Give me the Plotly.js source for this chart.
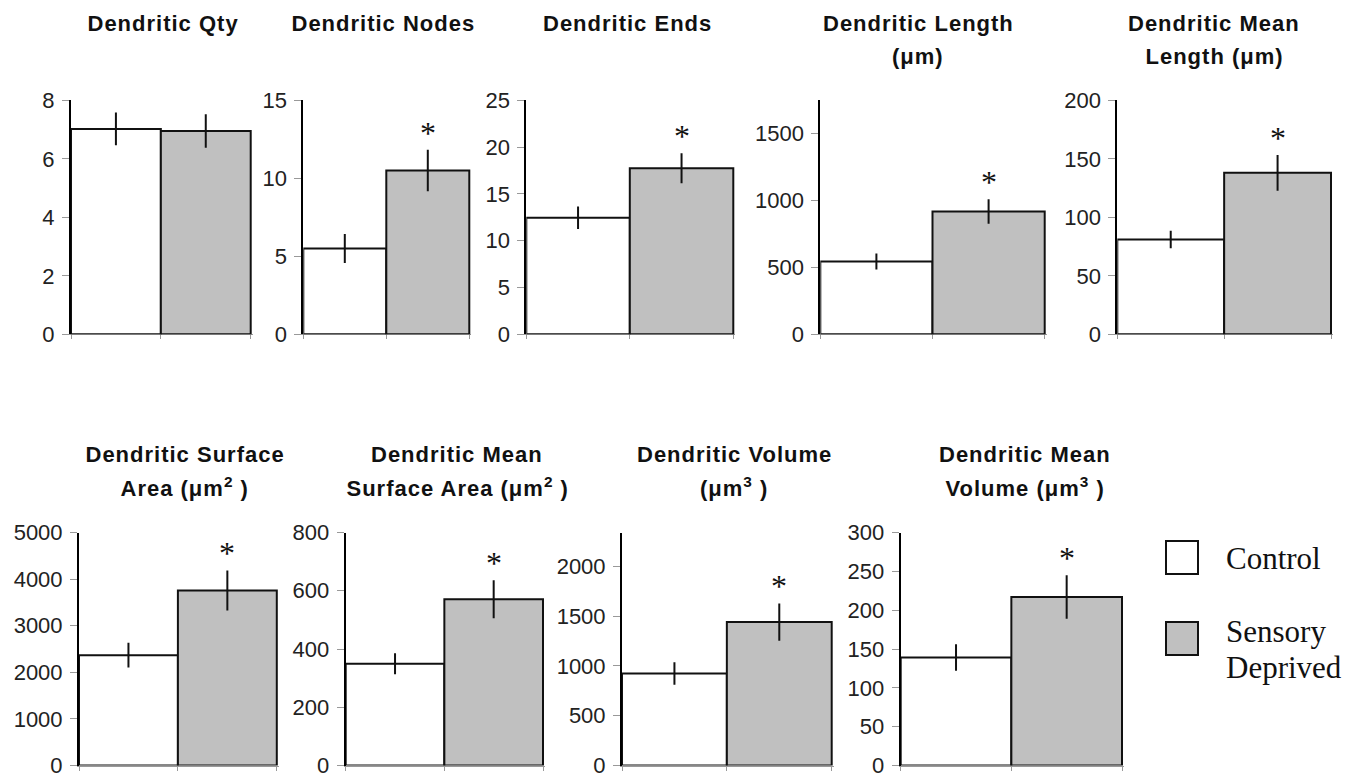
<!DOCTYPE html>
<html><head><meta charset="utf-8">
<script src="https://cdn.plot.ly/plotly-3.0.1.min.js"></script>
<style>html,body{margin:0;padding:0;background:#fff}#chart{width:1358px;height:778px}
.ptitle{letter-spacing:1px}</style>
</head><body><div id="chart"></div>
<script>
// ---- data ----
const panelTitles = [
  'Dendritic Qty',
  'Dendritic Nodes',
  'Dendritic Ends',
  'Dendritic Length<br>(μm)',
  'Dendritic Mean<br>Length (μm)',
  'Dendritic Surface<br>Area (μm<sup>2</sup> )',
  'Dendritic Mean<br>Surface Area (μm<sup>2</sup> )',
  'Dendritic Volume<br>(μm<sup>3</sup> )',
  'Dendritic Mean<br>Volume (μm<sup>3</sup> )'
];
const groups = ['Control', 'Sensory Deprived'];
const controlMeans  = [7.02, 5.5, 12.45, 545, 81, 2367, 349, 924, 139];
const controlErr    = [0.56, 0.93, 1.2, 60, 7.5, 265, 36, 113, 17];
const deprivedMeans = [6.95, 10.5, 17.75, 918, 138, 3755, 571, 1440, 217];
const deprivedErr   = [0.57, 1.33, 1.6, 92, 15.3, 430, 65, 188, 28];
const significant   = [false, true, true, true, true, true, true, true, true];
const axisMax       = [8, 15, 25, 1750, 200, 5000, 800, 2340, 300];
const tickStep      = [2, 5, 5, 500, 50, 1000, 200, 500, 50];
const starLabel = '*';

// ---- layout geometry (pixels) ----
const W = 1358, H = 778;
const xPx = [[71,250.7],[303.3,469.3],[526.3,733.3],[820.3,1044.7],[1117.3,1331],
             [79,276.8],[345.7,543],[622,831.7],[900.7,1122]];
const rowPx = [[100.3,334.3],[532.5,765.5]];
const rowOf = [0,0,0,0,0,1,1,1,1];
const titleXPx = [163, 383, 627, 918, 1214, 185, 457, 734, 1025];
const titleLineCenterPx = [[23, 56], [454, 487]];
const fillColors = ['#ffffff', '#c0c0c0'];

const data = [];
const layout = {
  width: W, height: H,
  margin: {l:0, r:0, t:0, b:0},
  showlegend: false,
  barmode: 'overlay', bargap: 0,
  paper_bgcolor: '#ffffff', plot_bgcolor: 'rgba(0,0,0,0)',
  font: {family: 'Liberation Sans, Arial, sans-serif', color: '#111'},
  annotations: [], shapes: []
};

for (let i = 0; i < panelTitles.length; i++) {
  const n = i + 1;
  const key = n === 1 ? '' : String(n);
  const xa = 'x' + key, ya = 'y' + key;
  const [x0, x1] = xPx[i];
  const [yt, yb] = rowPx[rowOf[i]];
  const ux = 2 / (x1 - x0);
  layout['xaxis' + key] = {
    domain: [x0 / W, (x1 + 2) / W], anchor: ya,
    type: 'category', range: [-0.5, 1.5 + 2 * ux],
    tickson: 'boundaries', ticks: 'outside', ticklen: 4, tickcolor: '#999', tickwidth: 1,
    showticklabels: false, showline: true, linecolor: '#999', linewidth: 1,
    showgrid: false, zeroline: false, layer: 'below traces', fixedrange: true
  };
  layout['yaxis' + key] = {
    domain: [1 - yb / H, 1 - yt / H], anchor: xa,
    range: [0, axisMax[i]], tick0: 0, dtick: tickStep[i],
    ticks: 'outside', ticklen: 7, tickcolor: '#999', tickwidth: 1,
    showline: true, linecolor: '#000', linewidth: 2,
    showgrid: false, zeroline: false, ticklabeloverflow: 'allow',
    tickfont: {size: 22, color: '#222', family: 'Liberation Sans, Arial, sans-serif'},
    ticklabelstandoff: 3, fixedrange: true
  };
  const means = [controlMeans[i], deprivedMeans[i]];
  const errs = [controlErr[i], deprivedErr[i]];
  for (let s = 0; s < 2; s++) {
    data.push({
      type: 'bar', x: [groups[s]], y: [means[s]], xaxis: xa, yaxis: ya,
      name: groups[s], width: 1,
      marker: {color: fillColors[s], line: {color: '#111', width: 2}},
      error_y: {type: 'data', array: [errs[s]], visible: true, color: '#111', thickness: 2, width: 0},
      hoverinfo: 'y'
    });
  }
  if (significant[i]) {
    layout.annotations.push({
      xref: xa, yref: ya, x: groups[1], y: deprivedMeans[i] + deprivedErr[i],
      text: starLabel, showarrow: false, yanchor: 'bottom', yshift: -3,
      font: {family: 'Liberation Serif, Times New Roman, serif', size: 32, color: '#111'}
    });
  }
  panelTitles[i].split('<br>').forEach((line, k) => {
    layout.annotations.push({
      xref: 'paper', yref: 'paper', x: titleXPx[i] / W,
      y: 1 - titleLineCenterPx[rowOf[i]][k] / H,
      xanchor: 'center', yanchor: 'middle', showarrow: false,
      text: '<b>' + line + '</b>', captureevents: false,
      font: {family: 'Liberation Sans, Arial, sans-serif', size: 22, color: '#111'}
    });
  });
}

// ---- legend (drawn in paper space) ----
const legBoxPx = [[1166, 541, 1198, 574], [1166, 622, 1198, 655]];
const legTextX = 1224;
const legLineCenters = [[558], [631, 667]];
for (let s = 0; s < 2; s++) {
  const b = legBoxPx[s];
  layout.shapes.push({
    type: 'rect', xref: 'paper', yref: 'paper',
    x0: b[0] / W, x1: b[2] / W, y0: 1 - b[3] / H, y1: 1 - b[1] / H,
    fillcolor: fillColors[s], line: {color: '#111', width: 2}
  });
  const words = s === 0 ? [groups[s]] : groups[s].split(' ');
  words.forEach((w, k) => {
    layout.annotations.push({
      xref: 'paper', yref: 'paper', x: legTextX / W, y: 1 - legLineCenters[s][k] / H,
      xanchor: 'left', yanchor: 'middle', showarrow: false, text: w,
      font: {family: 'Liberation Serif, Times New Roman, serif', size: 31, color: '#111'}
    });
  });
}

Plotly.newPlot('chart', data, layout, {displayModeBar: false, staticPlot: true}).then(() => {
  // widen letter spacing of panel titles (bold text)
  document.querySelectorAll('.annotation-text').forEach(t => {
    if (t.querySelector('tspan[style*="bold"]') || /font-weight/.test(t.innerHTML)) t.classList.add('ptitle');
  });
});
</script>
</body></html>
